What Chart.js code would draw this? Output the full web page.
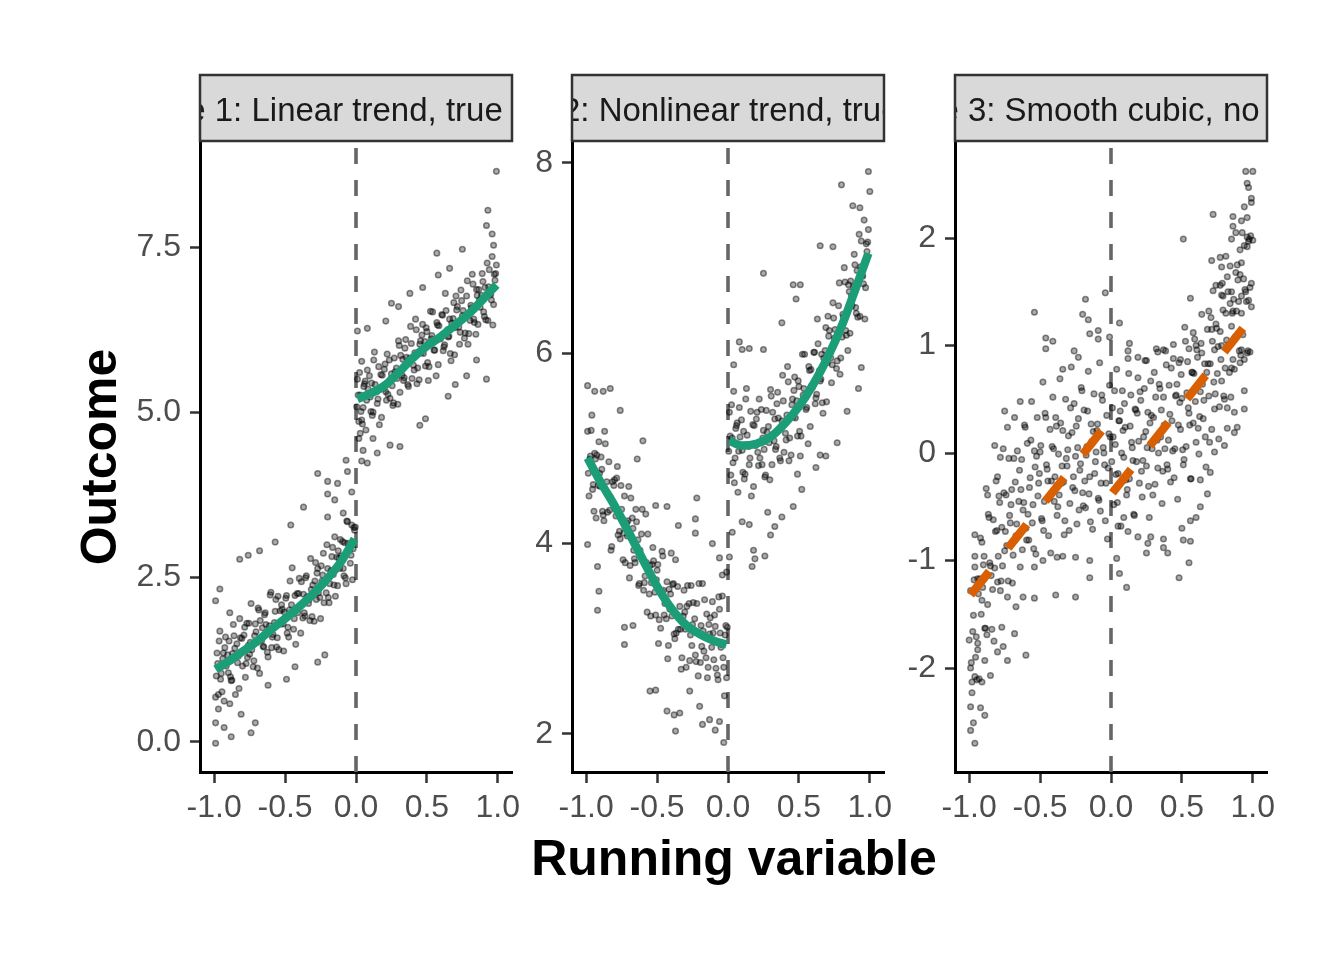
<!DOCTYPE html>
<html>
<head>
<meta charset="utf-8">
<script src="https://cdn.jsdelivr.net/npm/chart.js@4.4.1/dist/chart.umd.min.js"></script>
<style>
  html, body { margin: 0; padding: 0; background: #ffffff; }
  #wrap { position: relative; width: 1344px; height: 960px; }
  #wrap canvas { position: absolute; left: 0; top: 0; }
</style>
</head>
<body>
<div id="wrap">
  <canvas id="c1" width="1344" height="960"></canvas>
  <canvas id="c2" width="1344" height="960"></canvas>
  <canvas id="c3" width="1344" height="960"></canvas>
</div>
<script>
const FONT = "'Liberation Sans', Arial, Helvetica, sans-serif";

// facet titles and axis labels
const stripTitles = ['Case 1: Linear trend, true jump', 'Case 2: Nonlinear trend, true jump', 'Case 3: Smooth cubic, no jump'];
const xTitle = 'Running variable';
const yTitle = 'Outcome';

// tick values / labels
const xTicks = [-1, -0.5, 0, 0.5, 1];
const xTickLabels = ['-1.0', '-0.5', '0.0', '0.5', '1.0'];
const p1Ticks = [0, 2.5, 5, 7.5];
const p1TickLabels = ['0.0', '2.5', '5.0', '7.5'];
const p2Ticks = [2, 4, 6, 8];
const p2TickLabels = ['2', '4', '6', '8'];
const p3Ticks = [-2, -1, 0, 1, 2];
const p3TickLabels = ['-2', '-1', '0', '1', '2'];

// scatter points [running variable, outcome]
const p1Left = [
  [-0.98,1.35],[-0.97,0.72],[-0.96,1.68],[-0.95,1.04],[-0.94,1.26],[-0.93,0.62],[-0.92,1.59],[-0.90,1.05],[-0.89,1.96],[-0.88,0.93],
  [-0.87,1.34],[-0.86,1.61],[-0.85,0.72],[-0.84,1.49],[-0.83,1.30],[-0.82,1.87],[-0.80,1.15],[-0.79,1.62],[-0.78,0.98],[-0.77,1.80],
  [-0.76,1.46],[-0.75,1.33],[-0.74,2.10],[-0.72,1.23],[-0.71,1.79],[-0.70,1.51],[-0.69,2.03],[-0.68,1.04],[-0.66,1.73],[-0.65,1.44],
  [-0.64,1.96],[-0.62,1.29],[-0.61,1.76],[-0.60,2.27],[-0.59,1.59],[-0.57,1.98],[-0.56,1.44],[-0.55,2.21],[-0.53,1.79],[-0.52,2.01],
  [-0.51,1.38],[-0.49,2.22],[-0.48,1.74],[-0.47,2.00],[-0.45,2.64],[-0.44,1.71],[-0.43,2.22],[-0.41,1.96],[-0.40,2.48],[-0.39,1.65],
  [-0.37,2.24],[-0.36,1.91],[-0.35,2.52],[-0.33,2.16],[-0.32,2.78],[-0.31,1.90],[-0.29,2.44],[-0.28,2.16],[-0.27,2.63],[-0.25,1.87],
  [-0.24,2.44],[-0.23,2.86],[-0.21,2.26],[-0.20,2.63],[-0.19,2.11],[-0.17,2.81],[-0.16,2.54],[-0.15,3.11],[-0.13,2.37],[-0.12,2.79],
  [-0.11,3.07],[-0.09,2.63],[-0.08,3.02],[-0.07,2.40],[-0.06,3.34],[-0.05,2.92],[-0.04,2.71],[-0.03,3.29],[-0.02,2.93],[-0.01,3.21],
  [-0.99,-0.02],[-0.88,0.08],[-0.74,0.14],[-0.99,0.29],[-0.71,0.29],[-0.93,0.22],[-0.81,0.42],[-0.97,0.50],[-0.89,0.58],[-0.99,0.68],
  [-0.62,0.86],[-0.49,0.95],[-0.43,1.14],[-0.27,1.21],[-0.22,1.32],[-0.96,2.32],[-0.99,2.14],[-0.82,2.77],[-0.76,2.83],[-0.68,2.90],
  [-0.57,3.03],[-0.46,3.29],[-0.37,3.56],[-0.27,4.07],[-0.20,3.95],[-0.13,3.92],[-0.07,4.27],[-0.06,4.10],[-0.20,3.76],[-0.15,3.67],
  [-0.03,3.79],[-0.20,3.41],[-0.09,3.47]
];
const p1LeftMore = [
  [-0.985,1.00],[-0.965,1.53],[-0.945,0.76],[-0.925,1.43],[-0.905,1.32],[-0.885,0.99],[-0.865,1.78],[-0.845,1.31],[-0.825,0.81],[-0.805,1.57],
  [-0.785,1.74],[-0.765,1.28],[-0.745,1.51],[-0.725,1.14],[-0.705,1.67],[-0.685,2.00],[-0.665,1.54],[-0.645,1.93],[-0.625,1.36],[-0.605,2.23],
  [-0.585,1.63],[-0.565,2.16],[-0.545,1.40],[-0.525,2.08],[-0.505,1.97],[-0.485,1.65],[-0.465,2.44],[-0.445,1.98],[-0.425,1.48],[-0.405,2.25],
  [-0.385,2.43],[-0.365,1.96],[-0.345,2.20],[-0.325,1.84],[-0.305,2.38],[-0.285,2.72],[-0.265,2.26],[-0.245,2.67],[-0.225,2.11],[-0.205,2.99],
  [-0.185,2.40],[-0.165,2.95],[-0.145,2.21],[-0.125,2.90],[-0.105,2.82],[-0.085,2.52],[-0.065,3.35],[-0.045,2.92],[-0.025,2.46],[-0.005,3.26],
  [-0.975,1.19],[-0.955,0.95],[-0.935,1.35],[-0.915,1.15],[-0.895,1.53],[-0.875,0.94],[-0.855,1.42],[-0.835,1.20],[-0.815,1.58],[-0.795,1.38],
  [-0.775,1.19],[-0.755,1.80],[-0.735,1.40],[-0.715,1.61],[-0.695,1.12],[-0.675,1.84],[-0.655,1.45],[-0.635,1.78],[-0.615,1.69],[-0.595,1.43],
  [-0.575,1.81],[-0.555,1.58],[-0.535,1.99],[-0.515,1.79],[-0.495,2.18],[-0.475,1.59],[-0.455,2.08],[-0.435,1.87],[-0.415,2.25],[-0.395,2.06],
  [-0.375,1.88],[-0.355,2.49],[-0.335,2.10],[-0.315,2.31],[-0.295,1.83],[-0.275,2.56],[-0.255,2.19],[-0.235,2.53],[-0.215,2.45],[-0.195,2.19],
  [-0.175,2.60],[-0.155,2.38],[-0.135,2.80],[-0.115,2.63],[-0.095,3.04],[-0.075,2.49],[-0.055,3.01],[-0.035,2.83],[-0.015,3.25]
];
const p1Right = [
  [0.01,5.50],[0.02,4.86],[0.03,5.26],[0.04,5.77],[0.05,5.07],[0.06,5.43],[0.07,4.73],[0.08,5.64],[0.10,5.23],[0.11,5.44],
  [0.12,5.00],[0.13,5.91],[0.15,5.13],[0.16,5.69],[0.17,5.35],[0.18,4.92],[0.20,5.65],[0.21,5.31],[0.22,5.88],[0.24,5.21],
  [0.25,5.58],[0.26,5.10],[0.27,5.82],[0.29,5.51],[0.30,6.08],[0.31,5.30],[0.33,5.80],[0.34,5.52],[0.35,6.10],[0.37,5.39],
  [0.38,5.82],[0.39,6.04],[0.41,5.64],[0.42,6.41],[0.43,5.43],[0.45,6.03],[0.46,5.90],[0.47,6.33],[0.49,5.70],[0.50,6.22],
  [0.51,5.48],[0.53,6.11],[0.54,6.52],[0.55,5.94],[0.57,6.36],[0.58,5.72],[0.59,6.14],[0.61,6.47],[0.62,5.99],[0.63,6.80],
  [0.65,6.14],[0.66,6.41],[0.67,5.78],[0.69,6.66],[0.70,6.28],[0.71,6.55],[0.73,6.03],[0.74,6.85],[0.75,6.46],[0.77,6.20],
  [0.78,6.76],[0.79,6.03],[0.81,6.62],[0.82,7.09],[0.83,6.41],[0.85,6.86],[0.86,6.33],[0.87,6.70],[0.89,7.10],[0.90,6.52],
  [0.91,6.89],[0.93,6.39],[0.94,7.16],[0.95,6.78],[0.96,7.36],[0.97,6.63],[0.98,7.00],[0.99,7.23],
  [0.99,8.65],[0.93,8.06],[0.92,7.83],[0.96,7.70],[0.97,7.53],[0.57,7.41],[0.75,7.47],[0.66,7.18],[0.58,7.08],[0.38,6.80],
  [0.47,6.89],[0.25,6.65],[0.30,6.60],[0.21,6.38],[0.01,6.23],[0.08,6.27],[0.65,5.24],[0.70,5.42],[0.92,5.50],[0.85,5.79],
  [0.78,5.55],[0.45,4.80],[0.49,4.90],[0.31,4.48],[0.24,4.50],[0.15,4.38],[0.08,4.23],[0.04,4.26],[0.05,4.42],[0.02,4.60],
  [0.12,4.60],[0.03,4.68],[0.04,4.88]
];
const p1RightMore = [
  [0.005,5.08],[0.025,5.60],[0.045,4.82],[0.065,5.47],[0.085,5.35],[0.105,5.01],[0.125,5.79],[0.145,5.31],[0.165,4.81],[0.185,5.56],
  [0.205,5.73],[0.225,5.27],[0.245,5.50],[0.265,5.14],[0.285,5.67],[0.305,6.01],[0.325,5.56],[0.345,5.97],[0.365,5.42],[0.385,6.30],
  [0.405,5.71],[0.425,6.25],[0.445,5.49],[0.465,6.17],[0.485,6.07],[0.505,5.75],[0.525,6.53],[0.545,6.06],[0.565,5.55],[0.585,6.31],
  [0.605,6.48],[0.625,6.02],[0.645,6.25],[0.665,5.89],[0.685,6.42],[0.705,6.76],[0.725,6.29],[0.745,6.69],[0.765,6.12],[0.785,6.99],
  [0.805,6.39],[0.825,6.94],[0.845,6.18],[0.865,6.86],[0.885,6.77],[0.905,6.45],[0.925,7.26],[0.945,6.80],[0.965,6.32],[0.985,7.10],
  [0.015,5.26],[0.035,5.01],[0.055,5.39],[0.075,5.18],[0.095,5.55],[0.115,4.95],[0.135,5.42],[0.155,5.20],[0.175,5.57],[0.195,5.36],
  [0.215,5.18],[0.235,5.79],[0.255,5.40],[0.275,5.61],[0.295,5.12],[0.315,5.86],[0.335,5.48],[0.355,5.83],[0.375,5.76],[0.395,5.51],
  [0.415,5.90],[0.435,5.67],[0.455,6.08],[0.475,5.89],[0.495,6.28],[0.515,5.69],[0.535,6.16],[0.555,5.94],[0.575,6.32],[0.595,6.11],
  [0.615,5.93],[0.635,6.54],[0.655,6.15],[0.675,6.35],[0.695,5.87],[0.715,6.60],[0.735,6.21],[0.755,6.54],[0.775,6.46],[0.795,6.19],
  [0.815,6.58],[0.835,6.36],[0.855,6.77],[0.875,6.59],[0.895,6.98],[0.915,6.40],[0.935,6.90],[0.955,6.70],[0.975,7.09]
];
const p2Left = [
  [-0.99,5.18],[-0.98,4.50],[-0.97,4.92],[-0.96,5.35],[-0.95,4.62],[-0.94,4.95],[-0.93,4.27],[-0.91,5.07],[-0.90,4.60],[-0.89,4.78],
  [-0.88,4.30],[-0.87,5.18],[-0.85,4.33],[-0.84,4.86],[-0.83,4.49],[-0.82,3.97],[-0.80,4.67],[-0.79,4.29],[-0.78,4.81],[-0.76,4.05],
  [-0.75,4.36],[-0.74,3.83],[-0.73,4.50],[-0.71,4.08],[-0.70,4.60],[-0.69,3.77],[-0.67,4.16],[-0.66,3.84],[-0.65,4.36],[-0.63,3.56],
  [-0.62,3.93],[-0.61,4.10],[-0.59,3.59],[-0.58,4.31],[-0.57,3.28],[-0.55,3.77],[-0.54,3.59],[-0.53,3.96],[-0.51,3.25],[-0.50,3.72],
  [-0.49,2.95],[-0.47,3.50],[-0.46,3.87],[-0.45,3.25],[-0.43,3.60],[-0.42,2.93],[-0.41,3.31],[-0.39,3.57],[-0.38,3.05],[-0.37,3.83],
  [-0.35,3.10],[-0.34,3.34],[-0.33,2.68],[-0.31,3.51],[-0.30,3.10],[-0.29,3.34],[-0.27,2.77],[-0.26,3.56],[-0.25,3.15],[-0.23,2.83],
  [-0.22,3.37],[-0.21,2.61],[-0.19,3.14],[-0.18,3.58],[-0.17,2.87],[-0.15,3.26],[-0.14,2.70],[-0.13,3.05],[-0.11,3.39],[-0.10,2.78],
  [-0.09,3.13],[-0.07,2.57],[-0.06,3.31],[-0.05,2.91],[-0.04,3.45],[-0.03,2.70],[-0.02,3.04],[-0.01,2.59],
  [-0.99,5.66],[-0.94,5.60],[-0.88,5.60],[-0.83,5.63],[-0.76,5.40],[-0.60,5.08],[-0.64,4.89],[-0.99,3.99],[-0.92,3.76],[-0.91,3.50],
  [-0.92,3.30],[-0.73,2.94],[-0.73,3.12],[-0.67,3.14],[-0.55,2.45],[-0.51,2.46],[-0.43,2.24],[-0.37,2.03],[-0.38,2.20],[-0.34,2.22],
  [-0.27,2.45],[-0.20,2.29],[-0.18,2.10],[-0.13,2.15],[-0.09,2.04],[-0.03,1.91],[-0.06,2.13],[-0.40,3.90],[-0.22,4.48],[-0.23,4.26],
  [-0.11,4.00],[-0.06,3.85],[-0.35,4.19],[-0.23,4.11],[-0.43,4.39],[-0.51,4.40],[-0.04,3.67],[-0.01,3.70]
];
const p2LeftMore = [
  [-0.985,4.74],[-0.965,5.19],[-0.945,4.34],[-0.925,4.93],[-0.905,4.74],[-0.885,4.34],[-0.865,5.05],[-0.845,4.51],[-0.825,3.93],[-0.805,4.61],
  [-0.785,4.69],[-0.765,4.13],[-0.745,4.26],[-0.725,3.80],[-0.705,4.24],[-0.685,4.48],[-0.665,3.93],[-0.645,4.23],[-0.625,3.58],[-0.605,4.36],
  [-0.585,3.66],[-0.565,4.10],[-0.545,3.24],[-0.525,3.82],[-0.505,3.62],[-0.485,3.20],[-0.465,3.92],[-0.445,3.37],[-0.425,2.79],[-0.405,3.47],
  [-0.385,3.58],[-0.365,3.06],[-0.345,3.23],[-0.325,2.80],[-0.305,3.28],[-0.285,3.56],[-0.265,3.04],[-0.245,3.38],[-0.225,2.76],[-0.205,3.58],
  [-0.185,2.92],[-0.165,3.41],[-0.145,2.59],[-0.125,3.22],[-0.105,3.06],[-0.085,2.69],[-0.065,3.44],[-0.045,2.94],[-0.025,2.40],[-0.005,3.12],
  [-0.975,4.89],[-0.955,4.57],[-0.935,4.89],[-0.915,4.61],[-0.895,4.91],[-0.875,4.24],[-0.855,4.65],[-0.835,4.35],[-0.815,4.65],[-0.795,4.37],
  [-0.775,4.09],[-0.755,4.61],[-0.735,4.11],[-0.715,4.22],[-0.695,3.64],[-0.675,4.27],[-0.655,3.80],[-0.635,4.04],[-0.615,3.87],[-0.595,3.51],
  [-0.575,3.80],[-0.555,3.47],[-0.535,3.78],[-0.515,3.49],[-0.495,3.78],[-0.475,3.11],[-0.455,3.51],[-0.435,3.21],[-0.415,3.52],[-0.395,3.24],
  [-0.375,3.00],[-0.355,3.55],[-0.335,3.10],[-0.315,3.24],[-0.295,2.70],[-0.275,3.37],[-0.255,2.93],[-0.235,3.21],[-0.215,3.07],[-0.195,2.75],
  [-0.175,3.08],[-0.155,2.80],[-0.135,3.15],[-0.115,2.91],[-0.095,3.25],[-0.075,2.62],[-0.055,3.06],[-0.035,2.80],[-0.015,3.14]
];
const p2Right = [
  [0.01,5.38],[0.02,4.72],[0.03,5.11],[0.04,5.60],[0.05,4.90],[0.06,5.24],[0.07,4.54],[0.08,5.43],[0.10,4.98],[0.11,5.18],
  [0.12,4.73],[0.13,5.63],[0.15,4.83],[0.16,5.39],[0.17,5.04],[0.18,4.60],[0.20,5.31],[0.21,4.96],[0.22,5.52],[0.24,4.83],
  [0.25,5.19],[0.26,4.70],[0.27,5.40],[0.29,5.06],[0.30,5.62],[0.31,4.83],[0.33,5.31],[0.34,5.02],[0.35,5.59],[0.37,4.87],
  [0.38,5.29],[0.39,5.50],[0.41,5.09],[0.42,5.86],[0.43,4.87],[0.45,5.46],[0.46,5.33],[0.47,5.75],[0.49,5.13],[0.50,5.65],
  [0.51,4.92],[0.53,5.56],[0.54,5.99],[0.55,5.41],[0.57,5.86],[0.58,5.23],[0.59,5.66],[0.61,6.01],[0.62,5.53],[0.63,6.36],
  [0.65,5.71],[0.66,5.99],[0.67,5.37],[0.69,6.27],[0.70,5.90],[0.71,6.18],[0.73,5.69],[0.74,6.53],[0.75,6.16],[0.77,5.92],
  [0.78,6.50],[0.79,5.78],[0.81,6.41],[0.82,6.90],[0.83,6.24],[0.85,6.72],[0.86,6.21],[0.87,6.60],[0.89,7.04],[0.90,6.48],
  [0.91,6.87],[0.93,6.39],[0.94,7.18],[0.95,6.81],[0.96,7.40],[0.97,6.69],[0.98,7.07],[0.99,7.30],
  [0.99,7.91],[1.00,7.70],[0.80,7.77],[0.88,7.55],[0.93,7.53],[0.65,7.13],[0.74,7.12],[0.25,6.84],[0.46,6.72],[0.51,6.72],
  [0.48,6.57],[0.38,6.32],[0.08,6.12],[0.10,6.04],[0.15,6.05],[0.25,6.04],[0.04,5.88],[0.03,4.12],[0.01,3.86],[0.17,3.76],
  [0.19,3.84],[0.18,3.93],[0.26,3.87],[0.30,4.09],[0.33,4.18],[0.38,4.28],[0.28,4.33],[0.10,4.23],[0.15,4.20],[0.46,4.39],
  [0.52,4.57],[0.49,4.73],[0.62,4.80],[0.65,4.93],[0.69,4.92],[0.77,5.06],[0.84,5.39],[0.92,5.63],[0.94,5.85]
];
const p2RightMore = [
  [0.005,4.97],[0.025,5.46],[0.045,4.64],[0.065,5.27],[0.085,5.12],[0.105,4.75],[0.125,5.52],[0.145,5.02],[0.165,4.50],[0.185,5.24],
  [0.205,5.38],[0.225,4.90],[0.245,5.11],[0.265,4.72],[0.285,5.23],[0.305,5.55],[0.325,5.08],[0.345,5.47],[0.365,4.90],[0.385,5.77],
  [0.405,5.16],[0.425,5.70],[0.445,4.93],[0.465,5.61],[0.485,5.50],[0.505,5.18],[0.525,5.99],[0.545,5.53],[0.565,5.05],[0.585,5.83],
  [0.605,6.01],[0.625,5.57],[0.645,5.82],[0.665,5.48],[0.685,6.03],[0.705,6.39],[0.725,5.95],[0.745,6.37],[0.765,5.84],[0.785,6.74],
  [0.805,6.17],[0.825,6.75],[0.845,6.03],[0.865,6.76],[0.885,6.70],[0.905,6.42],[0.925,7.25],[0.945,6.82],[0.965,6.36],[0.985,7.17],
  [0.015,5.13],[0.035,4.85],[0.055,5.21],[0.075,4.97],[0.095,5.30],[0.115,4.68],[0.135,5.14],[0.155,4.90],[0.175,5.25],[0.195,5.03],
  [0.215,4.82],[0.235,5.41],[0.255,4.99],[0.275,5.17],[0.295,4.67],[0.315,5.38],[0.335,4.99],[0.355,5.32],[0.375,5.23],[0.395,4.96],
  [0.415,5.35],[0.435,5.11],[0.455,5.52],[0.475,5.32],[0.495,5.71],[0.515,5.13],[0.535,5.63],[0.555,5.43],[0.575,5.82],[0.595,5.64],
  [0.615,5.47],[0.635,6.10],[0.655,5.73],[0.675,5.95],[0.695,5.49],[0.715,6.24],[0.735,5.88],[0.755,6.25],[0.775,6.19],[0.795,5.95],
  [0.815,6.38],[0.835,6.19],[0.855,6.65],[0.875,6.50],[0.895,6.93],[0.915,6.38],[0.935,6.91],[0.955,6.73],[0.975,7.15]
];
const p3Left = [
  [-0.99,-1.28],[-0.98,-2.13],[-0.97,-1.51],[-0.96,-0.76],[-0.95,-1.71],[-0.94,-1.17],[-0.93,-2.10],[-0.92,-0.79],[-0.91,-1.37],[-0.90,-1.04],
  [-0.89,-1.63],[-0.88,-0.33],[-0.87,-1.41],[-0.86,-0.60],[-0.85,-1.05],[-0.84,-1.64],[-0.83,-0.62],[-0.82,-1.07],[-0.81,-0.26],[-0.80,-1.20],
  [-0.79,-0.40],[-0.78,-1.28],[-0.77,-0.69],[-0.76,0.04],[-0.75,-0.91],[-0.74,-0.39],[-0.73,-1.34],[-0.72,-0.05],[-0.71,-0.65],[-0.70,-0.34],
  [-0.69,-0.95],[-0.68,0.33],[-0.67,-0.77],[-0.66,0.02],[-0.65,-0.45],[-0.64,-1.06],[-0.63,-0.06],[-0.62,-0.53],[-0.61,0.26],[-0.60,-0.70],
  [-0.59,0.09],[-0.58,-0.81],[-0.57,-0.23],[-0.56,0.48],[-0.55,-0.48],[-0.54,0.02],[-0.53,-0.94],[-0.52,0.33],[-0.51,-0.28],[-0.50,0.01],
  [-0.49,-0.61],[-0.48,0.66],[-0.47,-0.45],[-0.46,0.33],[-0.45,-0.15],[-0.44,-0.77],[-0.43,0.22],[-0.42,-0.26],[-0.41,0.52],[-0.40,-0.45],
  [-0.39,0.33],[-0.38,-0.58],[-0.37,-0.01],[-0.36,0.69],[-0.35,-0.28],[-0.34,0.21],[-0.33,-0.76],[-0.32,0.50],[-0.31,-0.12],[-0.30,0.16],
  [-0.29,-0.47],[-0.28,0.80],[-0.27,-0.32],[-0.26,0.46],[-0.25,-0.03],[-0.24,-0.66],[-0.23,0.32],[-0.22,-0.16],[-0.21,0.61],[-0.20,-0.37],
  [-0.19,0.40],[-0.18,-0.51],[-0.17,0.06],[-0.16,0.76],[-0.15,-0.22],[-0.14,0.27],[-0.13,-0.71],[-0.12,0.55],[-0.11,-0.08],[-0.10,0.21],
  [-0.09,-0.42],[-0.08,0.84],[-0.07,-0.28],[-0.06,0.49],[-0.05,0.00],[-0.04,-0.63],[-0.03,0.35],[-0.02,-0.14],[-0.01,0.63],
  [-0.54,1.31],[-0.18,1.43],[-0.04,1.49],[-0.20,1.29],[-0.16,1.24],[-0.46,1.07],[-0.41,1.04],[-0.46,0.97],[-0.15,1.11],[-0.09,1.14],
  [-0.09,1.06],[-0.26,0.95],[-0.23,0.89],[-0.34,0.78],[-0.64,0.48],[-0.75,0.39],[-0.73,0.24],[-0.82,0.07],[-0.78,-0.04],[-0.80,-0.22],
  [-0.87,-0.39],[-0.91,-0.83],[-0.96,-0.96],[-0.96,-1.06],[-0.39,-1.32],[-0.25,-1.34],[-0.15,-1.16],[-0.15,-1.00],[-0.60,-1.88],[-0.68,-1.68],
  [-0.62,-1.34],[-0.54,-1.35],[-0.67,-1.43],[-0.54,-1.06],[-0.48,-1.00],[-0.38,-0.97],[-0.34,-0.96],[-0.25,-0.97],[-0.76,-1.80],[-0.73,-1.93],
  [-0.80,-1.85],[-0.77,-1.62],[-0.85,-2.07],[-0.89,-1.93],[-0.91,-2.13],[-0.96,-2.08],[-0.99,-2.00],[-0.98,-2.23],[-0.99,-2.36],[-0.92,-2.37],
  [-0.89,-2.44],[-0.97,-2.51],[-0.99,-2.58],[-0.96,-2.70],[-0.94,-1.77],[-1.00,-1.74],[-0.94,-1.83],[-0.01,1.08]
];
const p3LeftMore = [
  [-0.985,-1.95],[-0.965,-1.18],[-0.945,-2.11],[-0.925,-1.17],[-0.905,-1.25],[-0.885,-1.63],[-0.865,-0.57],[-0.845,-1.14],[-0.825,-1.75],[-0.805,-0.72],
  [-0.785,-0.46],[-0.765,-1.05],[-0.745,-0.73],[-0.725,-1.19],[-0.705,-0.48],[-0.685,-0.05],[-0.665,-0.66],[-0.645,-0.16],[-0.625,-0.90],[-0.605,0.24],
  [-0.585,-0.57],[-0.565,0.12],[-0.545,-0.89],[-0.525,-0.03],[-0.505,-0.19],[-0.485,-0.63],[-0.465,0.37],[-0.445,-0.26],[-0.425,-0.93],[-0.405,0.04],
  [-0.385,0.25],[-0.365,-0.39],[-0.345,-0.12],[-0.325,-0.63],[-0.305,0.03],[-0.285,0.42],[-0.265,-0.22],[-0.245,0.25],[-0.225,-0.53],[-0.205,0.58],
  [-0.185,-0.26],[-0.165,0.39],[-0.145,-0.64],[-0.125,0.20],[-0.105,0.01],[-0.085,-0.44],[-0.065,0.54],[-0.045,-0.11],[-0.025,-0.80],[-0.005,0.15],
  [-0.975,-1.66],[-0.955,-1.90],[-0.935,-1.31],[-0.915,-1.50],[-0.895,-0.96],[-0.875,-1.69],[-0.855,-1.02],[-0.835,-1.27],[-0.815,-0.73],[-0.795,-0.96],
  [-0.775,-1.19],[-0.755,-0.37],[-0.735,-0.86],[-0.715,-0.58],[-0.695,-1.21],[-0.675,-0.27],[-0.655,-0.77],[-0.635,-0.34],[-0.615,-0.46],[-0.595,-0.81],
  [-0.575,-0.32],[-0.555,-0.65],[-0.535,-0.13],[-0.515,-0.40],[-0.495,0.07],[-0.475,-0.72],[-0.455,-0.11],[-0.435,-0.42],[-0.415,0.06],[-0.395,-0.22],
  [-0.375,-0.50],[-0.355,0.28],[-0.335,-0.27],[-0.315,-0.05],[-0.295,-0.72],[-0.275,0.19],[-0.255,-0.35],[-0.235,0.05],[-0.215,-0.10],[-0.195,-0.49],
  [-0.175,-0.02],[-0.155,-0.38],[-0.135,0.11],[-0.115,-0.19],[-0.095,0.27],[-0.075,-0.54],[-0.055,0.05],[-0.035,-0.28],[-0.015,0.18]
];
const p3Right = [
  [0.01,0.42],[0.02,-0.48],[0.03,0.08],[0.04,0.78],[0.05,-0.19],[0.06,0.30],[0.07,-0.68],[0.08,0.58],[0.09,-0.04],[0.10,0.24],
  [0.11,-0.39],[0.12,0.88],[0.13,-0.24],[0.14,0.54],[0.15,0.05],[0.16,-0.57],[0.17,0.41],[0.18,-0.08],[0.19,0.70],[0.20,-0.28],
  [0.21,0.49],[0.22,-0.41],[0.23,0.15],[0.24,0.86],[0.25,-0.12],[0.26,0.38],[0.27,-0.60],[0.28,0.67],[0.29,0.04],[0.30,0.33],
  [0.31,-0.29],[0.32,0.97],[0.33,-0.14],[0.34,0.64],[0.35,0.15],[0.36,-0.47],[0.37,0.52],[0.38,0.04],[0.39,0.82],[0.40,-0.15],
  [0.41,0.63],[0.42,-0.27],[0.43,0.30],[0.44,1.01],[0.45,0.04],[0.46,0.54],[0.47,-0.43],[0.48,0.84],[0.49,0.22],[0.50,0.51],
  [0.51,-0.11],[0.52,1.17],[0.53,0.06],[0.54,0.85],[0.55,0.37],[0.56,-0.24],[0.57,0.75],[0.58,0.28],[0.59,1.06],[0.60,0.10],
  [0.61,0.89],[0.62,-0.01],[0.63,0.57],[0.64,1.29],[0.65,0.32],[0.66,0.83],[0.67,-0.13],[0.68,1.15],[0.69,0.53],[0.70,0.83],
  [0.71,0.22],[0.72,1.51],[0.73,0.41],[0.74,1.20],[0.75,0.74],[0.76,0.13],[0.77,1.13],[0.78,0.67],[0.79,1.46],[0.80,0.50],
  [0.81,1.30],[0.82,0.42],[0.83,1.01],[0.84,1.74],[0.85,0.79],[0.86,1.32],[0.87,0.38],[0.88,1.68],[0.89,1.09],[0.90,1.41],
  [0.91,0.84],[0.92,2.16],[0.93,1.10],[0.94,1.93],[0.95,1.50],[0.96,0.93],[0.97,1.97],[0.98,1.54],[0.99,2.37],
  [0.95,2.62],[1.00,2.62],[0.96,2.51],[0.97,2.47],[0.99,2.33],[0.94,2.29],[0.96,2.19],[0.72,2.22],[0.86,2.20],[0.86,2.11],
  [0.85,1.99],[0.51,1.99],[0.88,2.05],[0.96,2.01],[1.00,1.98],[0.91,1.89],[0.96,1.92],[0.71,1.79],[0.77,1.82],[0.81,1.83],
  [0.78,1.73],[0.89,1.75],[0.92,1.77],[0.82,1.64],[0.91,1.66],[0.74,1.56],[0.77,1.56],[0.99,1.58],[0.92,1.46],[0.97,1.42],
  [0.56,1.44],[0.78,1.47],[0.85,1.50],[0.99,1.36],[0.69,1.32],[0.79,1.33],[0.84,1.39],[0.92,1.30],[0.71,1.15],[0.85,1.18],
  [0.58,1.12],[0.06,1.21],[0.78,1.00],[0.73,0.96],[0.92,0.96],[0.94,0.87],[0.98,0.94],[0.86,0.87],[0.33,0.94],[0.37,0.96],
  [0.13,1.02],[0.12,0.95],[0.19,0.89],[0.25,0.86],[0.44,0.88],[0.49,0.87],[0.55,0.97],[0.60,1.00],[0.64,0.93],[0.87,0.78],
  [0.94,0.41],[0.94,0.58],[0.89,0.24],[0.87,0.19],[0.11,-1.25],[0.06,-1.12],[0.04,-0.98],[0.48,-1.16],[0.55,-1.02],[0.51,-0.81],
  [0.56,-0.82],[0.40,-0.93],[0.37,-0.88],[0.25,-0.93],[0.26,-0.84],[0.28,-0.78],[0.37,-0.80],[0.50,-0.70],[0.60,-0.60],[0.56,-0.63],
  [0.19,-0.78],[0.12,-0.73],[0.05,-0.68],[0.09,-0.60],[0.63,-0.50],[0.68,-0.38],[0.70,-0.18],[0.63,-0.25],[0.73,0.01],[0.80,0.07],
  [0.82,0.23]
];
const p3RightMore = [
  [0.005,-0.08],[0.025,0.58],[0.045,-0.46],[0.065,0.39],[0.085,0.21],[0.105,-0.25],[0.125,0.74],[0.145,0.10],[0.165,-0.58],[0.185,0.37],
  [0.205,0.57],[0.225,-0.07],[0.245,0.20],[0.265,-0.31],[0.285,0.35],[0.305,0.75],[0.325,0.12],[0.345,0.60],[0.365,-0.17],[0.385,0.95],
  [0.405,0.12],[0.425,0.79],[0.445,-0.23],[0.465,0.64],[0.485,0.47],[0.505,0.03],[0.525,1.04],[0.545,0.42],[0.565,-0.24],[0.585,0.74],
  [0.605,0.96],[0.625,0.34],[0.645,0.64],[0.665,0.15],[0.685,0.83],[0.705,1.26],[0.725,0.66],[0.745,1.16],[0.765,0.43],[0.785,1.58],
  [0.805,0.79],[0.825,1.50],[0.845,0.52],[0.865,1.43],[0.885,1.32],[0.905,0.95],[0.925,2.05],[0.945,1.52],[0.965,0.95],[0.985,2.02],
  [0.015,0.15],[0.035,-0.20],[0.055,0.30],[0.075,0.00],[0.095,0.46],[0.115,-0.34],[0.135,0.25],[0.155,-0.07],[0.175,0.40],[0.195,0.11],
  [0.215,-0.17],[0.235,0.60],[0.255,0.05],[0.275,0.28],[0.295,-0.39],[0.315,0.52],[0.335,0.00],[0.355,0.40],[0.375,0.26],[0.395,-0.11],
  [0.415,0.36],[0.435,0.02],[0.455,0.53],[0.475,0.26],[0.495,0.73],[0.515,-0.06],[0.535,0.56],[0.555,0.26],[0.575,0.75],[0.595,0.48],
  [0.615,0.23],[0.635,1.02],[0.655,0.49],[0.675,0.75],[0.695,0.10],[0.715,1.04],[0.735,0.55],[0.755,0.99],[0.775,0.87],[0.795,0.53],
  [0.815,1.05],[0.835,0.75],[0.855,1.30],[0.875,1.08],[0.895,1.61],[0.915,0.91],[0.935,1.62],[0.955,1.41],[0.975,1.99]
];

// fitted curves on each side of the cutoff
const p1FitLeftX = [-0.99, -0.9, -0.8, -0.7, -0.6, -0.5, -0.4, -0.3, -0.2, -0.1, -0.01];
const p1FitLeftY = [1.10, 1.22, 1.37, 1.52, 1.70, 1.87, 2.05, 2.25, 2.48, 2.75, 3.08];
const p1FitRightX = [0.01, 0.1, 0.2, 0.3, 0.4, 0.5, 0.6, 0.7, 0.8, 0.9, 0.99];
const p1FitRightY = [5.20, 5.28, 5.40, 5.60, 5.82, 6.00, 6.15, 6.32, 6.50, 6.72, 6.93];
const p2FitLeftX = [-0.99, -0.9, -0.8, -0.7, -0.6, -0.5, -0.4, -0.3, -0.2, -0.1, -0.01];
const p2FitLeftY = [4.90, 4.65, 4.40, 4.12, 3.83, 3.55, 3.32, 3.15, 3.05, 2.98, 2.94];
const p2FitRightX = [0.01, 0.1, 0.2, 0.3, 0.4, 0.5, 0.6, 0.7, 0.8, 0.9, 0.99];
const p2FitRightY = [5.08, 5.03, 5.05, 5.12, 5.26, 5.44, 5.67, 5.95, 6.28, 6.68, 7.05];
const p3FitLeftX = [-0.99, -0.01];
const p3FitLeftY = [-1.32, 0.30];
const p3FitRightX = [0.01, 0.99];
const p3FitRightY = [-0.37, 1.26];

const cutoff = 0;

const panels = [
  { id: 'c1', left: 200, right: 512, yMin: -0.455, yMax: 9.08, ticks: p1Ticks, labels: p1TickLabels,
    pts: [...p1Left, ...p1LeftMore, ...p1Right, ...p1RightMore], fits: [[p1FitLeftX, p1FitLeftY], [p1FitRightX, p1FitRightY]],
    color: '#1b9e77', dash: [], strip: stripTitles[0], yTitle: true },
  { id: 'c2', left: 572, right: 884, yMin: 1.60, yMax: 8.21, ticks: p2Ticks, labels: p2TickLabels,
    pts: [...p2Left, ...p2LeftMore, ...p2Right, ...p2RightMore], fits: [[p2FitLeftX, p2FitLeftY], [p2FitRightX, p2FitRightY]],
    color: '#1b9e77', dash: [], strip: stripTitles[1], xTitle: true },
  { id: 'c3', left: 955, right: 1267, yMin: -2.967, yMax: 2.884, ticks: p3Ticks, labels: p3TickLabels,
    pts: [...p3Left, ...p3LeftMore, ...p3Right, ...p3RightMore], fits: [[p3FitLeftX, p3FitLeftY], [p3FitRightX, p3FitRightY]],
    color: '#d95f02', dash: [30, 30], strip: stripTitles[2] }
];

// strip boxes + axis titles
const facetDecor = {
  id: 'facetDecor',
  afterDraw(chart, args, opts) {
    const { ctx, chartArea: a } = chart;
    const top = 75, h = 66;
    ctx.save();
    ctx.fillStyle = '#d9d9d9';
    ctx.fillRect(a.left, top, a.right - a.left, h);
    ctx.beginPath();
    ctx.rect(a.left, top, a.right - a.left, h);
    ctx.clip();
    ctx.fillStyle = '#1a1a1a';
    ctx.font = '33px ' + FONT;
    ctx.textAlign = 'center';
    ctx.textBaseline = 'middle';
    ctx.fillText(opts.strip, (a.left + a.right) / 2, 112);
    ctx.restore();

    ctx.save();
    ctx.strokeStyle = '#333333';
    ctx.lineWidth = 2.5;
    ctx.strokeRect(a.left, top, a.right - a.left, h);
    ctx.restore();

    ctx.save();
    ctx.fillStyle = '#000000';
    ctx.font = 'bold 50px ' + FONT;
    ctx.textAlign = 'center';
    ctx.textBaseline = 'alphabetic';
    if (opts.yTitle) {
      ctx.translate(116, 457);
      ctx.rotate(-Math.PI / 2);
      ctx.fillText(yTitle, 0, 0);
    }
    if (opts.xTitle) {
      ctx.fillText(xTitle, 734, 875);
    }
    ctx.restore();
  }
};

Chart.defaults.font.family = FONT;

function makeChart(p) {
  const toXY = (xs, ys) => xs.map((x, i) => ({ x: x, y: ys[i] }));
  const datasets = [];
  p.fits.forEach(f => datasets.push({
    data: toXY(f[0], f[1]),
    showLine: true,
    borderColor: p.color,
    borderWidth: 8.5,
    borderDash: p.dash,
    borderCapStyle: 'butt',
    cubicInterpolationMode: 'monotone',
    pointRadius: 0,
    order: 0
  }));
  datasets.push({
    data: p.pts.map(d => ({ x: d[0], y: d[1] })),
    pointRadius: 2.8,
    pointBackgroundColor: 'rgba(0,0,0,0.33)',
    pointBorderColor: 'rgba(0,0,0,0.45)',
    pointBorderWidth: 1.5,
    order: 1
  });
  datasets.push({
    data: [{ x: cutoff, y: p.yMin }, { x: cutoff, y: p.yMax }],
    showLine: true,
    borderColor: '#666666',
    borderWidth: 3.6,
    borderDash: [16, 16],
    pointRadius: 0,
    order: 2
  });

  const yW = 100, xH = 188;
  return new Chart(document.getElementById(p.id), {
    type: 'scatter',
    data: { datasets },
    options: {
      responsive: false,
      animation: false,
      events: [],
      layout: { padding: { left: p.left - yW, right: 1344 - p.right, top: 143, bottom: 960 - 772 - xH } },
      plugins: {
        legend: { display: false },
        tooltip: { enabled: false },
        facetDecor: { strip: p.strip, yTitle: !!p.yTitle, xTitle: !!p.xTitle }
      },
      scales: {
        x: {
          type: 'linear',
          min: -1.1,
          max: 1.1,
          afterFit: s => { s.height = xH; },
          afterBuildTicks: s => { s.ticks = xTicks.map(v => ({ value: v })); },
          grid: { drawOnChartArea: false, drawTicks: true, tickLength: 11, tickColor: '#333333', tickWidth: 2.5 },
          border: { display: true, color: '#000000', width: 3 },
          ticks: {
            autoSkip: false, maxRotation: 0, padding: 6, color: '#4d4d4d',
            font: { size: 32 },
            callback: (v) => xTickLabels[xTicks.indexOf(v)]
          }
        },
        y: {
          type: 'linear',
          min: p.yMin,
          max: p.yMax,
          afterFit: s => { s.width = yW; },
          afterBuildTicks: s => { s.ticks = p.ticks.map(v => ({ value: v })); },
          grid: { drawOnChartArea: false, drawTicks: true, tickLength: 10, tickColor: '#333333', tickWidth: 2.5 },
          border: { display: true, color: '#000000', width: 3 },
          ticks: {
            autoSkip: false, padding: 9, color: '#4d4d4d',
            font: { size: 32 },
            callback: (v) => p.labels[p.ticks.indexOf(v)]
          }
        }
      }
    },
    plugins: [facetDecor]
  });
}

panels.forEach(makeChart);
</script>
</body>
</html>
